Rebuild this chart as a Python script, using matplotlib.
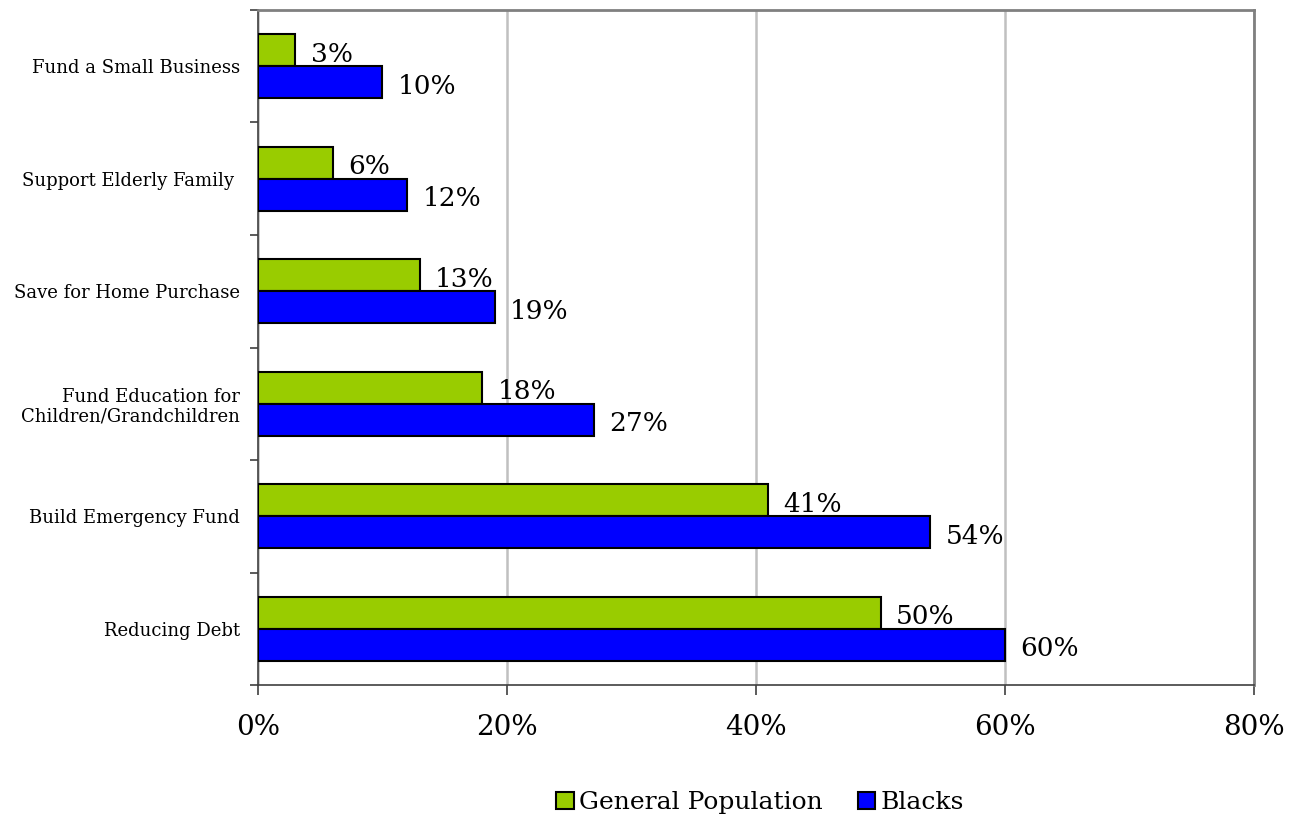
import matplotlib.pyplot as plt
import numpy as np

# Reasons (bottom to top as drawn)
categories = ["Reducing Debt", "Build Emergency Fund",
              "Fund Education for\nChildren/Grandchildren",
              "Save for Home Purchase", "Support Elderly Family ",
              "Fund a Small Business"]
general_pop = [50, 41, 18, 13, 6, 3]
blacks = [60, 54, 27, 19, 12, 10]
xticks = [0, 20, 40, 60, 80]

plt.rcParams['font.family'] = ['DejaVu Serif']

fig = plt.figure(figsize=(12.99, 8.19), dpi=100)
ax = fig.add_axes([0.1986, 0.1636, 0.7668, 0.8242])

y = np.arange(len(categories))
h = 0.284
green = "#99CC00"
blue = "#0000FF"

b1 = ax.barh(y + h / 2, general_pop, height=h, color=green, edgecolor="black",
             linewidth=1.5, label="General Population", zorder=3)
b2 = ax.barh(y - h / 2, blacks, height=h, color=blue, edgecolor="black",
             linewidth=1.5, label="Blacks", zorder=3)

for bars, vals in [(b1, general_pop), (b2, blacks)]:
    for bar, v in zip(bars, vals):
        ax.annotate(f"{v}%", (v, bar.get_y() + bar.get_height() / 2),
                    xytext=(11, -3), textcoords="offset points",
                    ha="left", va="center", fontsize=19, zorder=4)

ax.set_xlim(0, 80)
ax.set_ylim(-0.5, len(categories) - 0.5)
ax.set_xticks(xticks)
ax.set_xticklabels([f"{t}%" for t in xticks], fontsize=20)
ax.tick_params(axis="x", direction="out", length=7, width=1.2, pad=14,
               color="#404040")

ax.set_yticks(y)
ax.set_yticklabels(categories, fontsize=13, linespacing=1.15)
ax.tick_params(axis="y", which="major", length=0, pad=13)
ax.set_yticks(np.arange(-0.5, len(categories), 1.0), minor=True)
ax.tick_params(axis="y", which="minor", direction="out", length=6,
               width=1.2, color="#404040")

ax.grid(axis="x", color="#C0C0C0", linewidth=1.8, zorder=0)
for side in ["top", "right"]:
    ax.spines[side].set_color("#808080")
    ax.spines[side].set_linewidth(2)
for side in ["left", "bottom"]:
    ax.spines[side].set_color("#404040")
    ax.spines[side].set_linewidth(1.2)

fig.legend(handles=[b1, b2], loc="center", bbox_to_anchor=(0.585, 0.02),
           ncol=2, frameon=False, fontsize=18, handlelength=0.7,
           handleheight=0.7, handletextpad=0.2, columnspacing=1.4)

fig.savefig("out.png", dpi=100)
